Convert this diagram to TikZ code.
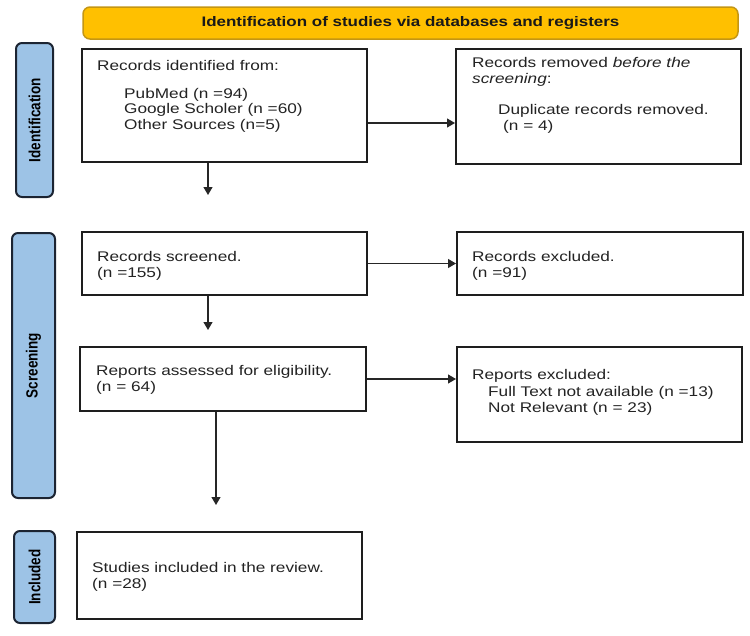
\documentclass[tikz,border=0pt]{standalone}
\usepackage{fontspec}
\setmainfont{Liberation Sans}[FakeStretch=1.23]
\newfontfamily\sidefont{Liberation Sans}
\usetikzlibrary{arrows.meta}
\definecolor{hdrfill}{RGB}{255,192,0}
\definecolor{hdrdraw}{RGB}{196,150,20}
\definecolor{sidefill}{RGB}{157,195,230}
\definecolor{sidedraw}{RGB}{28,36,50}
\definecolor{boxdraw}{RGB}{30,30,30}
\definecolor{txt}{RGB}{35,35,35}
\tikzset{
  box/.style={draw=boxdraw, line width=2pt, fill=white, rectangle, inner sep=0pt},
  side/.style={draw=sidedraw, line width=2pt, fill=sidefill, rectangle, rounded corners=6pt, inner sep=0pt},
  hdr/.style={draw=hdrdraw, line width=1.5pt, fill=hdrfill, rectangle, rounded corners=7pt, inner sep=0pt},
  txtn/.style={anchor=base west, inner sep=0pt, align=left, text=txt, font=\fontsize{14}{15.5}\selectfont},
  sidelbl/.style={rotate=90, inner sep=0pt, text=black, font=\sidefont\bfseries\fontsize{13.5}{15}\selectfont},
  arr/.style={draw=black!85, line width=1.2pt, -{Triangle[length=8pt,width=9pt]}}
}
\begin{document}
\begin{tikzpicture}[x=1pt,y=-1pt]
\useasboundingbox (0,0) rectangle (750,635);
% header
\node[hdr, minimum width=655pt, minimum height=32pt] (hd) at (410.5,23) {};
\node[inner sep=0pt, font=\bfseries\fontsize{13.8}{15}\selectfont, text=black!90] (hdt) at (hd.center) {Identification of studies via databases and registers};
% side boxes
\node[side, minimum width=37pt, minimum height=154pt] (s1) at (34.5,120) {};
\node[side, minimum width=43pt, minimum height=265pt] (s2) at (33.5,365.5) {};
\node[side, minimum width=41pt, minimum height=92pt] (s3) at (34.5,577) {};
\node[sidelbl] (s1t) at (s1.center) {\scalebox{1}[1.2]{Identification}};
\node[sidelbl] (s2t) at (s2.center) {\scalebox{1}[1.2]{Screening}};
\node[sidelbl] (s3t) at (s3.center) {\scalebox{1}[1.2]{Included}};
% boxes
\node[box, minimum width=285pt, minimum height=113pt] (b1) at (224.5,105.5) {};
\node[box, minimum width=285pt, minimum height=115pt] (b2) at (598.5,106.5) {};
\node[box, minimum width=285pt, minimum height=63pt] (b3) at (224.5,263.5) {};
\node[box, minimum width=286pt, minimum height=64pt] (b4) at (223,379) {};
\node[box, minimum width=286pt, minimum height=63pt] (b5) at (600,263.5) {};
\node[box, minimum width=285pt, minimum height=95pt] (b6) at (599.5,394.5) {};
\node[box, minimum width=285pt, minimum height=87pt] (b7) at (219.5,575.5) {};
% texts (base anchor = baseline of last line)
\node[txtn] (t1a) at (97,70) {Records identified from:};
\node[txtn] (t1b) at (124,129) {PubMed (n =94)\\Google Scholer (n =60)\\Other Sources (n=5)};
\node[txtn] (t2a) at (472,83) {Records removed \emph{before the}\\\emph{screening}:};
\node[txtn] (t2b) at (498,130) {Duplicate records removed.\\\hspace*{5pt}(n = 4)};
\node[txtn] (t3) at (97,277) {Records screened.\\(n =155)};
\node[txtn] (t4) at (96,391) {Reports assessed for eligibility.\\(n = 64)};
\node[txtn] (t5) at (472,277) {Records excluded.\\(n =91)};
\node[txtn] (t6a) at (472,379) {Reports excluded:};
\node[txtn] (t6b) at (488,412) {Full Text not available (n =13)\\Not Relevant (n = 23)};
\node[txtn] (t7) at (92,588) {Studies included in the review.\\(n =28)};
% connector coordinates
\coordinate (r1) at (0,123);
\coordinate (d1) at (208,195);
\coordinate (d3) at (208,330);
\coordinate (d4) at (216,505);
% connectors
\draw[arr] (b1.east |- r1) -- (b2.west |- r1);
\draw[arr] (d1 |- b1.south) -- (d1);
\draw[arr] (b3.east) -- (b5.west |- b3.east);
\draw[arr] (d3 |- b3.south) -- (d3);
\draw[arr] (b4.east) -- (b6.west |- b4.east);
\draw[arr] (d4 |- b4.south) -- (d4);
\end{tikzpicture}
\end{document}
